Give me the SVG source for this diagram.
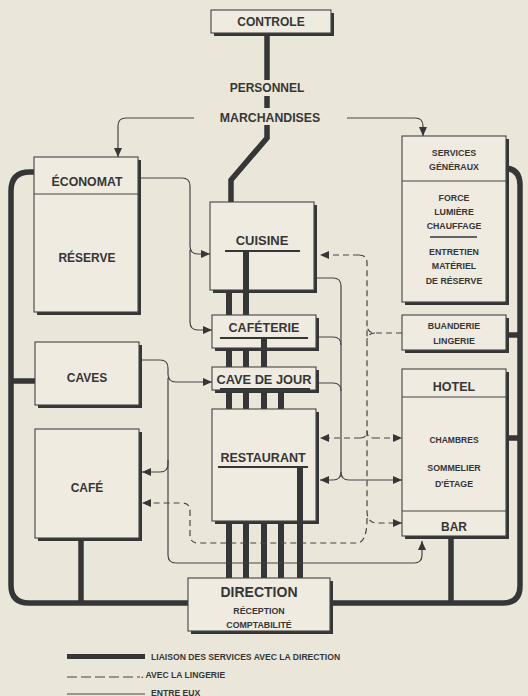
<svg xmlns="http://www.w3.org/2000/svg" width="528" height="696" viewBox="0 0 528 696">
<style>
text{font-family:"Liberation Sans",Arial,sans-serif;font-weight:bold;fill:#363636;text-anchor:middle}
.box{fill:#efebe1;stroke:#444;stroke-width:1.1}
.sh{fill:#363636}
.div{stroke:#444;stroke-width:1.1;fill:none}
.ul{stroke:#363636;stroke-width:2;fill:none}
.thick{stroke:#363636;stroke-width:5.5;fill:none}
.bus{stroke:#363636;stroke-width:6;fill:none}
.thin{stroke:#444;stroke-width:1.2;fill:none}
.dash{stroke:#444;stroke-width:1.2;fill:none;stroke-dasharray:6 4}
.t12{font-size:12.5px}
.t9{font-size:8.8px}
.lg{font-size:8.6px;text-anchor:start}
</style>
<defs>
<marker id="ah" viewBox="0 0 9 8" refX="9" refY="4" markerWidth="9" markerHeight="8" markerUnits="userSpaceOnUse" orient="auto">
<path d="M0,0 L9,4 L0,8 z" fill="#363636"/>
</marker>
</defs>
<rect x="0" y="0" width="528" height="696" fill="#ebe6da"/>

<g id="connectors">
<path class="thick" d="M34,172 H30 Q11,172 11,191 V585 Q11,603 29,603 H188"/>
<path class="thick" d="M506,168 H503 Q520,168 520,185 V586 Q520,603 503,603 H330"/>
<path class="thick" d="M11,381 H35"/>
<path class="thick" d="M81,540 V603"/>
<path class="thick" d="M506,335 H520"/>
<path class="thick" d="M506,438 H520"/>
<path class="thick" d="M451,538 V603"/>
<path class="thick" d="M267,35 V80"/>
<path class="thick" d="M267,96 V108"/>
<path class="thick" d="M267,125 V138 L231,180 V202"/>
<path class="bus" d="M229,292 V315 M246,251 V315"/>
<path class="bus" d="M229,350 V367 M246,350 V367 M264,338 V367"/>
<path class="bus" d="M229,392 V409 M246,392 V409 M264,392 V409 M281,392 V409"/>
<path class="bus" d="M229,523 V578 M246,523 V578 M264,523 V578 M281,523 V578 M300,467 V578"/>
<path class="thin" d="M194,118 H126 Q118,118 118,126 V157" marker-end="url(#ah)"/>
<path class="thin" d="M347,118 H415 Q423,118 423,126 V136" marker-end="url(#ah)"/>
<path class="thin" d="M138,178 H182 Q190,178 190,186 V246 Q190,254 198,254 H210" marker-end="url(#ah)"/>
<path class="thin" d="M190,250 V322 Q190,330 198,330 H212" marker-end="url(#ah)"/>
<path class="thin" d="M139,360 H160 Q168,360 168,368 V374 Q168,382 176,382 H212" marker-end="url(#ah)"/>
<path class="thin" d="M168,378 V464 Q168,472 160,472 H142" marker-end="url(#ah)"/>
<path class="thin" d="M168,460 V555 Q168,563 176,563 H414 Q422,563 422,555 V541" marker-end="url(#ah)"/>
<path class="thin" d="M317,278 H333 Q341,278 341,286 V472 Q341,480 333,480 H320" marker-end="url(#ah)"/>
<path class="thin" d="M341,472 Q341,480 349,480 H402" marker-end="url(#ah)"/>
<path class="thin" d="M319,337 H333 Q341,337 341,345"/>
<path class="thin" d="M319,383 H333 Q341,383 341,391"/>
<path class="dash" d="M359,255 H320" marker-end="url(#ah)"/>
<path class="dash" d="M359,255 Q367,255 367,263 V511 Q367,523 377,523 H402" marker-end="url(#ah)"/>
<path class="dash" d="M402,333 H375 Q368,333 367,326"/>
<path class="dash" d="M375,333 Q368,333 367,340"/>
<path class="dash" d="M360,438 H320" marker-end="url(#ah)"/>
<path class="dash" d="M374,438 H402" marker-end="url(#ah)"/>
<path class="dash" d="M360,438 Q367,438 367,431 Q367,438 374,438"/>
<path class="dash" d="M367,518 Q367,543 357,543 H198 Q190,543 190,535 V511 Q190,503 182,503 H142" marker-end="url(#ah)"/>
</g>

<g id="controle">
<rect class="sh" x="214" y="13" width="120" height="23"/>
<rect class="box" x="211" y="10" width="120" height="23"/>
<text x="271" y="26" style="font-size:12px">CONTROLE</text>
</g>
<g id="personnel"><text x="267" y="92" style="font-size:12px">PERSONNEL</text></g>
<g id="marchandises"><text x="270" y="121.5" style="font-size:12.3px">MARCHANDISES</text></g>

<g id="economat">
<rect class="sh" x="37" y="160" width="104" height="155"/>
<rect class="box" x="34" y="157" width="104" height="155"/>
<line class="div" x1="34" y1="194" x2="138" y2="194"/>
<text x="87" y="185.5" style="font-size:12.3px">ÉCONOMAT</text>
<text x="87" y="262" style="font-size:12px">RÉSERVE</text>
</g>

<g id="caves">
<rect class="sh" x="38" y="345" width="104" height="63"/>
<rect class="box" x="35" y="342" width="104" height="63"/>
<text x="87" y="381.5" style="font-size:12px">CAVES</text>
</g>

<g id="cafe">
<rect class="sh" x="38" y="432" width="104" height="109"/>
<rect class="box" x="35" y="429" width="104" height="109"/>
<text x="87" y="491.5" style="font-size:12px">CAFÉ</text>
</g>

<g id="cuisine">
<rect class="sh" x="213" y="205" width="104" height="88"/>
<rect class="box" x="210" y="202" width="104" height="88"/>
<text x="262" y="244.5" style="font-size:13px">CUISINE</text>
<line class="ul" x1="225" y1="251" x2="300" y2="251"/>
<line class="bus" x1="246" y1="251" x2="246" y2="293"/>
</g>

<g id="cafeteria">
<rect class="sh" x="215" y="318" width="104" height="33"/>
<rect class="box" x="212" y="315" width="104" height="33"/>
<text x="264" y="331.5" style="font-size:12.5px">CAFÉTERIE</text>
<line class="ul" x1="220" y1="338" x2="308" y2="338"/>
<line class="bus" x1="264" y1="338" x2="264" y2="351"/>
</g>

<g id="cave-de-jour">
<rect class="sh" x="215" y="370" width="104" height="23"/>
<rect class="box" x="212" y="367" width="104" height="23"/>
<text x="264" y="384" style="font-size:12.8px">CAVE DE JOUR</text>
<line class="ul" x1="220" y1="389" x2="310" y2="389"/>
</g>

<g id="restaurant">
<rect class="sh" x="215" y="412" width="104" height="112"/>
<rect class="box" x="212" y="409" width="104" height="112"/>
<text x="263" y="461.5" style="font-size:12.5px">RESTAURANT</text>
<line class="ul" x1="218" y1="467" x2="308" y2="467"/>
<line class="bus" x1="300" y1="467" x2="300" y2="524"/>
</g>

<g id="direction">
<rect class="sh" x="191" y="581" width="142" height="53"/>
<rect class="box" x="188" y="578" width="142" height="53"/>
<text x="259" y="597" style="font-size:14px">DIRECTION</text>
<text class="t9" x="259" y="614">RÉCEPTION</text>
<text class="t9" x="259" y="628">COMPTABILITÉ</text>
</g>

<g id="services-generaux">
<rect class="sh" x="405" y="139" width="104" height="166"/>
<rect class="box" x="402" y="136" width="104" height="166"/>
<line class="div" x1="402" y1="181" x2="506" y2="181"/>
<text class="t9" x="454" y="156">SERVICES</text>
<text class="t9" x="454" y="170">GÉNÉRAUX</text>
<text class="t9" x="454" y="201">FORCE</text>
<text class="t9" x="454" y="215">LUMIÈRE</text>
<text class="t9" x="454" y="229">CHAUFFAGE</text>
<line class="ul" x1="430" y1="237" x2="477" y2="237" style="stroke-width:1.6"/>
<text class="t9" x="454" y="255">ENTRETIEN</text>
<text class="t9" x="454" y="269">MATÉRIEL</text>
<text class="t9" x="454" y="284">DE RÉSERVE</text>
</g>

<g id="buanderie">
<rect class="sh" x="405" y="318" width="104" height="35"/>
<rect class="box" x="402" y="315" width="104" height="35"/>
<text class="t9" x="454" y="329">BUANDERIE</text>
<text class="t9" x="454" y="344">LINGERIE</text>
</g>

<g id="hotel">
<rect class="sh" x="405" y="372" width="104" height="167"/>
<rect class="box" x="402" y="369" width="104" height="167"/>
<line class="div" x1="402" y1="397" x2="506" y2="397"/>
<line class="div" x1="402" y1="511" x2="506" y2="511"/>
<text x="454" y="390.5" style="font-size:12.5px">HOTEL</text>
<text class="t9" x="454" y="443" style="font-size:8.5px">CHAMBRES</text>
<text class="t9" x="454" y="471">SOMMELIER</text>
<text class="t9" x="454" y="487">D'ÉTAGE</text>
<text x="454" y="531" style="font-size:12px">BAR</text>
</g>

<g id="legend">
<line x1="67" y1="656.5" x2="145" y2="656.5" stroke="#363636" stroke-width="5"/>
<text class="lg" x="151" y="660">LIAISON DES SERVICES AVEC LA DIRECTION</text>
<line class="dash" x1="67" y1="677" x2="140" y2="677" style="stroke-dasharray:10 4"/>
<text class="lg" x="141" y="678">. AVEC LA LINGERIE</text>
<line class="thin" x1="67" y1="694" x2="145" y2="694"/>
<text class="lg" x="151" y="695.5">ENTRE EUX</text>
</g>
</svg>
